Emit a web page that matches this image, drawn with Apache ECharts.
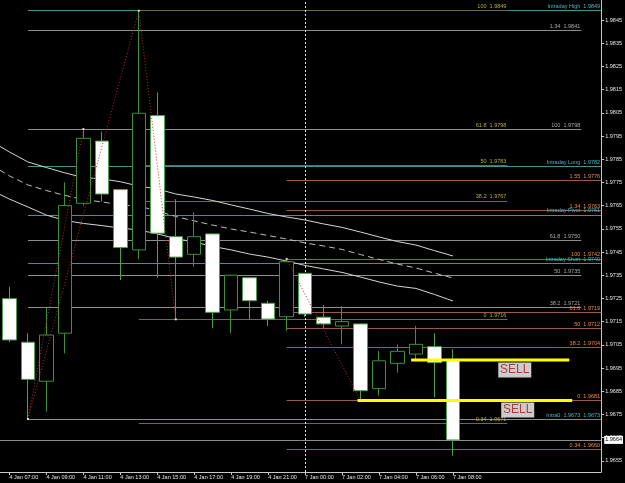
<!DOCTYPE html>
<html><head><meta charset="utf-8">
<script src="https://cdn.jsdelivr.net/npm/echarts@6/dist/echarts.min.js"></script>
<style>html,body{margin:0;padding:0;background:#000;}#c{width:625px;height:483px;}</style>
</head><body><div id="c"></div>
<script>
// ---- data ----
const times = ["4 Jan 07:00","4 Jan 08:00","4 Jan 09:00","4 Jan 10:00","4 Jan 11:00","4 Jan 12:00","4 Jan 13:00","4 Jan 14:00","4 Jan 15:00","4 Jan 16:00","4 Jan 17:00","4 Jan 18:00","4 Jan 19:00","4 Jan 20:00","4 Jan 21:00","4 Jan 22:00","7 Jan 00:00","7 Jan 01:00","7 Jan 02:00","7 Jan 03:00","7 Jan 04:00","7 Jan 05:00","7 Jan 06:00","7 Jan 07:00","7 Jan 08:00"];
const openP  = [1.97249,1.97061,1.96893,1.97100,1.97660,1.97928,1.97719,1.97459,1.98038,1.97516,1.97440,1.97528,1.97200,1.97339,1.97229,1.97171,1.97358,1.97169,1.97131,1.97140,1.96861,1.96970,1.97010,1.97042,1.96985];
const closeP = [1.97071,1.96901,1.97092,1.97650,1.97940,1.97700,1.97469,1.98048,1.97531,1.97428,1.97516,1.97190,1.97350,1.97240,1.97161,1.97408,1.97183,1.97140,1.97150,1.96852,1.96981,1.97022,1.97052,1.96973,1.96640];
const lowP   = [1.97062,1.96730,1.96762,1.97013,1.97650,1.97667,1.97329,1.97419,1.97339,1.97160,1.97387,1.97121,1.97100,1.97157,1.97131,1.97111,1.97170,1.97118,1.97052,1.96810,1.96831,1.96930,1.96988,1.96824,1.96572];
const highP  = [1.97300,1.97100,1.97209,1.97750,1.97980,1.97969,1.97722,1.98490,1.98138,1.97678,1.97621,1.97530,1.97352,1.97342,1.97240,1.97420,1.97360,1.97222,1.97217,1.97142,1.97023,1.97052,1.97132,1.97100,1.97031];
// moving averages, first value belongs to the bar before 4 Jan 07:00
const ma1 = [1.97928,1.97881,1.97838,1.97814,1.97791,1.97771,1.97765,1.97753,1.97734,1.97722,1.97700,1.97687,1.97672,1.97653,1.97635,1.97616,1.97601,1.97588,1.97571,1.97556,1.97536,1.97515,1.97495,1.97480,1.97456,1.97433];
const ma2 = [1.97825,1.97778,1.97739,1.97715,1.97694,1.97676,1.97666,1.97653,1.97648,1.97627,1.97603,1.97584,1.97566,1.97549,1.97536,1.97521,1.97506,1.97489,1.97476,1.97461,1.97439,1.97418,1.97398,1.97381,1.97359,1.97338];
const ma3 = [1.97717,1.97678,1.97644,1.97609,1.97586,1.97573,1.97564,1.97553,1.97545,1.97528,1.97508,1.97493,1.97474,1.97459,1.97441,1.97428,1.97411,1.97392,1.97377,1.97362,1.97342,1.97321,1.97303,1.97293,1.97267,1.97239];
const priceTicks = [1.9655,1.9665,1.9675,1.9685,1.9695,1.9705,1.9715,1.9725,1.9735,1.9745,1.9755,1.9765,1.9775,1.9785,1.9795,1.9805,1.9815,1.9825,1.9835,1.9845];
const timeTicks = [0,2,4,6,8,10,12,14,16,18,20,22,24];
// level lines: [label, price]
const oliveLevels = [["100  1.9849",1.9849],["61.8  1.9798",1.9798],["50  1.9783",1.97825],["38.2  1.9767",1.9767],["0  1.9716",1.9716],["0.34  1.9671",1.9671]];
const grayLevels = [["1.34  1.9841",1.98405],["100  1.9798",1.9798],["61.8  1.9750",1.9750],["50  1.9735",1.9735],["38.2  1.9721",1.9721],["",1.9673]];
const orangeLevels = [["1.55  1.9776",1.9776],["1.34  1.9763",1.9763],["100  1.9742",1.9742],["61.8  1.9719",1.9719],["50  1.9712",1.9712],["38.2  1.9704",1.9704],["0  1.9681",1.9681],["0.34  1.9660",1.9660]];
const intradayLevels = [["Intraday High  1.9849",1.9849],["Intraday Long  1.9782",1.9782],["Intraday Pivot  1.9761",1.9761],["Intraday Short  1.9740",1.9740],["Intra0  1.9673  1.9673",1.9673]];
const zigzags = [[[1,1.9673],[7,1.9849],[9,1.9716]],[[1,1.9673],[4,1.9798]],[[15,1.9742],[19,1.9681]]];
const sellLines = [[1.96985,21.74,30.30],[1.9681,18.84,30.46]];
const sellTags = [[27.35,1.96941],[27.51,1.96769]];
const bidPrice = 1.9664;
const separatorBar = 16;

// ---- layout (bar index space) ----
const X_MIN = -0.5135, X_MAX = 32.027;
const Y_MIN = 1.965017, Y_MAX = 1.985362;
const anchors = {olive:[7,26.95], gray:[1,30.95], orange:[15,X_MAX], teal:[1,X_MAX], bid:[X_MIN,X_MAX]};
const FONT = 'Liberation Sans';

function levelSeries(levels, range, lineColor, textColor, z, labelPos, extraLabel) {
  return {
    type:'line', data:[], z:z, silent:true, animation:false,
    markLine:{
      silent:true, symbol:['none','none'], animation:false,
      lineStyle:{color:lineColor, width:1, type:'solid'},
      label:Object.assign({show:true, position:labelPos || 'insideEndTop', formatter:'{b}', color:textColor,
             fontSize:5.5, fontFamily:FONT, distance:1}, extraLabel || {}),
      emphasis:{disabled:true},
      data: levels.map(l => [{name:l[0], coord:[range[0], l[1]]},{coord:[range[1], l[1]]}])
    }
  };
}

const candleData = times.map((t,i) => [i, openP[i], closeP[i], lowP[i], highP[i]]);
const maData = arr => arr.map((v,k) => [k-1, v]);

const chart = echarts.init(document.getElementById('c'), null, {renderer:'canvas'});
chart.setOption({
  backgroundColor:'#000',
  animation:false,
  grid:{left:0, right:23, top:0, bottom:11, containLabel:false},
  xAxis:{
    type:'value', min:X_MIN, max:X_MAX,
    axisLine:{show:true, onZero:false, lineStyle:{color:'#c8c8c8', width:1}},
    axisTick:{show:true, length:3, customValues:timeTicks, lineStyle:{color:'#c8c8c8'}},
    axisLabel:{show:true, customValues:timeTicks, align:'left', margin:2, color:'#e6e6e6',
               fontSize:5.5, fontFamily:FONT, formatter:v => times[Math.round(v)] || ''},
    splitLine:{show:false}
  },
  yAxis:{
    type:'value', position:'right', min:Y_MIN, max:Y_MAX,
    axisLine:{show:true, onZero:false, lineStyle:{color:'#c8c8c8', width:1}},
    axisTick:{show:true, length:3, customValues:priceTicks, lineStyle:{color:'#c8c8c8'}},
    axisLabel:{show:true, customValues:priceTicks, margin:4, color:'#e6e6e6',
               fontSize:5.5, fontFamily:FONT, formatter:v => v.toFixed(4)},
    splitLine:{show:false}
  },
  series:[
    levelSeries(intradayLevels, anchors.teal, '#3d9494', '#44b6c4', 1),
    levelSeries(orangeLevels, anchors.orange, '#9a5a44', '#f08a3c', 2),
    levelSeries(oliveLevels, anchors.olive, '#6e6b3c', '#b4ac48', 3),
    levelSeries(grayLevels, anchors.gray, '#8e8e8e', '#a8a8a8', 4),
    levelSeries([[bidPrice.toFixed(4), bidPrice]], anchors.bid, '#8e8e8e', '#000', 4, 'end',
                {backgroundColor:'#fff', padding:[1,1], distance:3}),
    {
      type:'line', data:[], z:5, silent:true,
      markLine:{silent:true, symbol:['none','none'], animation:false,
        lineStyle:{color:'#e0e0e0', width:1, type:[2,2]},
        label:{show:false},
        data:[[{coord:[separatorBar, Y_MIN]},{coord:[separatorBar, Y_MAX]}]]}
    },
    {type:'line', data:maData(ma1), showSymbol:false, z:6, lineStyle:{color:'#cfd6d8', width:1}},
    {type:'line', data:maData(ma2), showSymbol:false, z:6, lineStyle:{color:'#b8c0c2', width:1, type:[6,4]}},
    {type:'line', data:maData(ma3), showSymbol:false, z:6, lineStyle:{color:'#cfd6d8', width:1}},
    {
      type:'candlestick', data:candleData, encode:{x:0, y:[1,2,3,4]}, z:7, barWidth:14,
      itemStyle:{color:'#000000', color0:'#ffffff', borderColor:'#3f8f3f', borderColor0:'#4f9f4f', borderWidth:1}
    },
    ...zigzags.map(z => ({
      type:'line', data:z, z:8, symbol:'rect', symbolSize:2, showSymbol:true,
      itemStyle:{color:'#e8d8b0'}, lineStyle:{color:'#b0302c', width:1, type:[1,2]}
    })),
    ...sellLines.map(s => ({
      type:'line', data:[[s[1], s[0]],[s[2], s[0]]], z:9, showSymbol:false,
      lineStyle:{color:'#ffff00', width:3}
    })),
    {
      type:'scatter', data:sellTags, z:10, symbol:'rect', symbolSize:[33,15],
      itemStyle:{color:'#ffffff'},
      label:{show:true, position:'inside', formatter:'SELL', color:'#a81818', fontSize:12, fontFamily:FONT}
    }
  ]
});
</script>
</body></html>
